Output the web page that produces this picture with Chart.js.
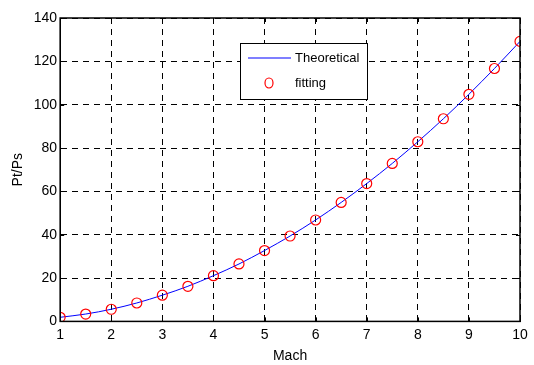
<!DOCTYPE html>
<html>
<head>
<meta charset="utf-8">
<script src="https://cdn.jsdelivr.net/npm/chart.js@4.4.0/dist/chart.umd.min.js"></script>
<style>
  html, body { margin: 0; padding: 0; background: #fff; }
  #wrap { width: 534px; height: 365px; }
</style>
</head>
<body>
<div id="wrap"><canvas id="grafico" width="534" height="365"></canvas></div>
<script>
// Datos
const mach      = [1, 1.5, 2, 2.5, 3, 3.5, 4, 4.5, 5, 5.5, 6, 6.5, 7, 7.5, 8, 8.5, 9, 9.5, 10];
const teorico   = [1.9, 3.4, 5.6, 8.5, 12.1, 16.2, 21.1, 26.5, 32.7, 39.4, 46.8, 54.9, 63.6, 72.9, 82.9, 93.5, 104.8, 116.7, 129.2];
const ajuste    = [1.9, 3.4, 5.6, 8.5, 12.1, 16.2, 21.1, 26.5, 32.7, 39.4, 46.8, 54.9, 63.6, 72.9, 82.9, 93.5, 104.8, 116.7, 129.2];
const xTicks    = [1, 2, 3, 4, 5, 6, 7, 8, 9, 10];
const yTicks    = [0, 20, 40, 60, 80, 100, 120, 140];

const fuente = '"Liberation Sans", Arial, sans-serif';

// leyenda estilo MATLAB dentro del área
const leyendaCaja = {
  id: 'leyendaCaja',
  afterDraw(chart) {
    const ctx = chart.ctx;
    const x0 = 240, y0 = 43, w = 127, h = 56;
    ctx.save();
    ctx.fillStyle = '#fff';
    ctx.fillRect(x0, y0, w, h);
    ctx.strokeStyle = '#000';
    ctx.lineWidth = 1;
    ctx.strokeRect(x0 + 0.5, y0 + 0.5, w, h);
    ctx.strokeStyle = '#0000ff';
    ctx.lineWidth = 1.2;
    ctx.beginPath();
    ctx.moveTo(x0 + 8, y0 + 15);
    ctx.lineTo(x0 + 51, y0 + 15);
    ctx.stroke();
    ctx.strokeStyle = '#ff0000';
    ctx.lineWidth = 1.2;
    ctx.beginPath();
    ctx.ellipse(x0 + 29, y0 + 40, 4, 5, 0, 0, Math.PI * 2);
    ctx.stroke();
    ctx.fillStyle = '#000';
    ctx.font = '13px ' + fuente;
    ctx.textBaseline = 'middle';
    ctx.fillText(chart.data.datasets[0].label, x0 + 55, y0 + 15);
    ctx.fillText(chart.data.datasets[1].label, x0 + 55, y0 + 40);
    ctx.restore();
  }
};

// marcas de ticks hacia adentro
const ticksAdentro = {
  id: 'ticksAdentro',
  afterDraw(chart) {
    const { ctx, chartArea: a, scales: { x, y } } = chart;
    ctx.save();
    ctx.strokeStyle = '#000';
    ctx.lineWidth = 1;
    ctx.beginPath();
    xTicks.forEach(v => {
      const px = Math.round(x.getPixelForValue(v)) + 0.5;
      ctx.moveTo(px, a.bottom); ctx.lineTo(px, a.bottom - 4);
      ctx.moveTo(px, a.top); ctx.lineTo(px, a.top + 4);
    });
    yTicks.forEach(v => {
      const py = Math.round(y.getPixelForValue(v)) + 0.5;
      ctx.moveTo(a.left, py); ctx.lineTo(a.left + 4, py);
      ctx.moveTo(a.right, py); ctx.lineTo(a.right - 4, py);
    });
    ctx.stroke();
    ctx.lineWidth = 1.5;
    ctx.strokeRect(a.left, a.top, a.right - a.left, a.bottom - a.top);
    ctx.restore();
  }
};

new Chart(document.getElementById('grafico'), {
  type: 'scatter',
  data: {
    datasets: [{
      label: 'Theoretical',
      data: mach.map((m, i) => ({ x: m, y: teorico[i] })),
      showLine: true,
      borderColor: '#0000ff',
      borderWidth: 1,
      pointRadius: 0,
      cubicInterpolationMode: 'monotone',
      order: 2
    }, {
      label: 'fitting',
      data: mach.map((m, i) => ({ x: m, y: ajuste[i] })),
      showLine: false,
      borderColor: '#ff0000',
      backgroundColor: 'rgba(0,0,0,0)',
      borderWidth: 1.2,
      pointRadius: 5,
      pointStyle: 'circle',
      order: 1
    }]
  },
  options: {
    responsive: false,
    animation: false,
    layout: { padding: { left: 6, right: 14, top: 18, bottom: 0 } },
    plugins: {
      legend: { display: false },
      tooltip: { enabled: false }
    },
    scales: {
      x: {
        type: 'linear',
        min: 1, max: 10,
        afterBuildTicks: s => { s.ticks = xTicks.map(v => ({ value: v })); },
        grid: { color: '#000', lineWidth: 1, drawTicks: false },
        border: { display: true, color: '#000', dash: [6, 5] },
        ticks: { color: '#000', font: { family: fuente, size: 14 }, padding: 5 },
        title: { display: true, text: 'Mach', color: '#000', font: { family: fuente, size: 14 }, padding: { top: 0, bottom: 0 } }
      },
      y: {
        min: 0, max: 140,
        afterBuildTicks: s => { s.ticks = yTicks.map(v => ({ value: v })); },
        grid: { color: '#000', lineWidth: 1, drawTicks: false },
        border: { display: true, color: '#000', dash: [6, 5] },
        ticks: { color: '#000', font: { family: fuente, size: 14 }, padding: 3 },
        title: { display: true, text: 'Pt/Ps', color: '#000', font: { family: fuente, size: 14 }, padding: { bottom: 4 } }
      }
    }
  },
  plugins: [ticksAdentro, leyendaCaja]
});
</script>
</body>
</html>
